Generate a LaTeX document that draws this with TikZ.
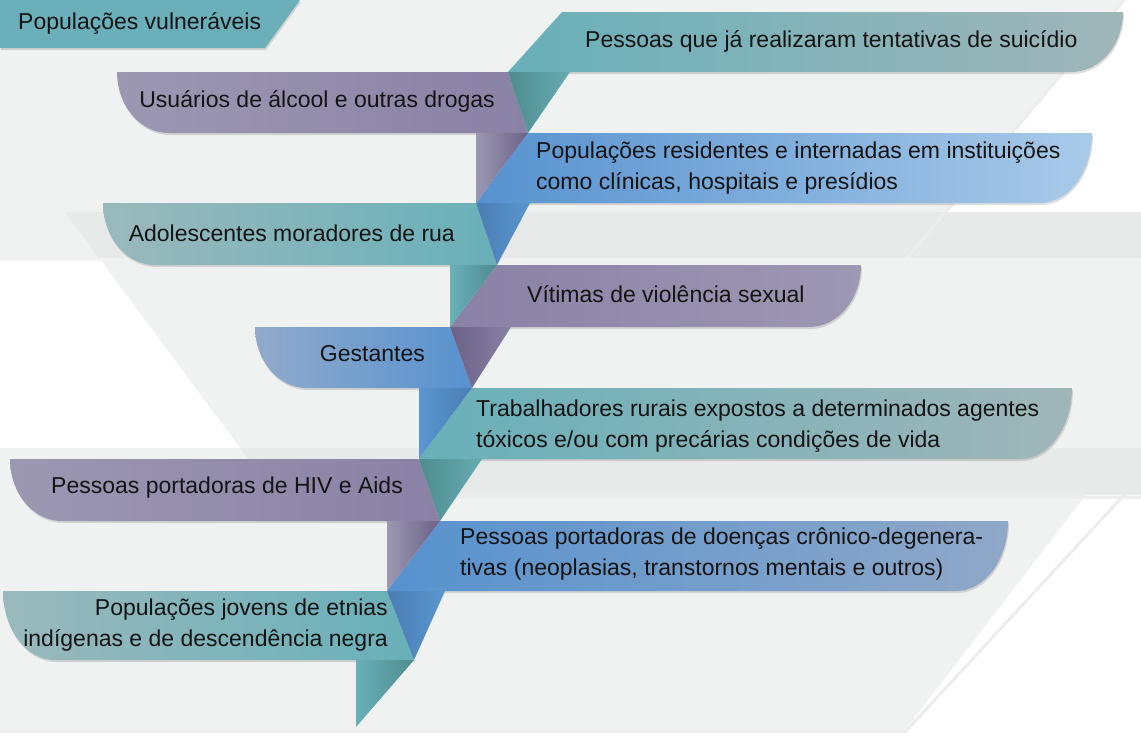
\documentclass[tikz,border=0pt]{standalone}
\usepackage{fontspec}
\setmainfont{Liberation Sans}
\definecolor{bg}{HTML}{F0F2F2}
\definecolor{bgd}{HTML}{E8EAEA}
\definecolor{hdr}{HTML}{6AAFBA}
\definecolor{tealA}{HTML}{69B0B9}
\definecolor{tealB}{HTML}{A0B6B9}
\definecolor{tealC}{HTML}{9AB9BD}
\definecolor{tealD}{HTML}{4E8C8E}
\definecolor{tealE}{HTML}{67ABB2}
\definecolor{purA}{HTML}{9C98B2}
\definecolor{purB}{HTML}{8A81A6}
\definecolor{purC}{HTML}{9D98B3}
\definecolor{purD}{HTML}{6A6186}
\definecolor{bluA}{HTML}{5792CF}
\definecolor{bluB}{HTML}{A9CAE9}
\definecolor{bluC}{HTML}{91AACB}
\definecolor{bluD}{HTML}{8FA8C8}
\definecolor{bluE}{HTML}{4A7DB3}
\definecolor{bluF}{HTML}{5A96D0}
\newcommand\ribR[7]{%
 \path[fill=black,opacity=.13,shift={(1,2)}] (#3,#1) -- (#5,#1) .. controls (#5,{#1+0.552*(#2-#1)}) and ({#5-23},#2) .. ({#5-52},#2) -- (#4,#2) -- cycle;
 \path[left color=#6,right color=#7] (#3,#1) -- (#5,#1) .. controls (#5,{#1+0.552*(#2-#1)}) and ({#5-23},#2) .. ({#5-52},#2) -- (#4,#2) -- cycle;}
\newcommand\ribL[7]{%
 \path[fill=black,opacity=.13,shift={(1,2)}] (#3,#1) -- (#4,#1) -- (#5,#2) -- ({#3+52},#2) .. controls ({#3+23},#2) and (#3,{#1+0.552*(#2-#1)}) .. (#3,#1) -- cycle;
 \path[left color=#6,right color=#7] (#3,#1) -- (#4,#1) -- (#5,#2) -- ({#3+52},#2) .. controls ({#3+23},#2) and (#3,{#1+0.552*(#2-#1)}) .. (#3,#1) -- cycle;}
\begin{document}
\begin{tikzpicture}[x=1pt,y=-1pt,
  txt/.style={font=\fontsize{23}{31.5}\selectfont, text=black!92, inner sep=0pt},
  rtxt/.style={txt, anchor=west, align=left},
  ltxt/.style={txt, anchor=east, align=right},
  shadowline/.style={black!7, line width=3pt}]
\useasboundingbox (0,0) rectangle (1141,745);
% background panels
\fill[white] (0,0) rectangle (1141,745);
\fill[bg] (65,212) -- (1141,212) -- (1141,495) -- (275,495) -- cycle;
\fill[bg] (0,0) -- (1122,0) -- (905,258) -- (0,258) -- cycle;
\fill[bgd] (65,212) -- (1141,212) -- (1141,258) -- (99,258) -- cycle;
\draw[shadowline] (1124,0) -- (907,258);
\draw[black!5, line width=2.5pt] (0,259.5) -- (1141,259.5);
\fill[bg] (0,448) -- (1122,448) -- (905,730) -- (0,730) -- cycle;
\fill[bgd] (240,448) -- (1141,448) -- (1141,495) -- (275,495) -- cycle;
\draw[shadowline] (1124,495) -- (907,730);
\draw[shadowline] (275,497) -- (1141,497);
\draw[shadowline] (0,731.5) -- (907,731.5);
% header
\path[fill=black,opacity=.13,shift={(1,2)}] (0,0) -- (300,0) -- (265,48) -- (0,48) -- cycle;
\path[fill=hdr] (0,0) -- (300,0) -- (265,48) -- (0,48) -- cycle;
% ribbons
\ribR{12}{72}{562}{508}{1123}{tealA}{tealB}
\ribL{72}{133}{117}{508}{528}{purA}{purB}
\ribR{133}{203}{528}{476}{1092}{bluA}{bluB}
\ribL{203}{265}{103}{476}{497}{tealC}{tealA}
\ribR{265}{327}{497}{450}{861}{purB}{purC}
\ribL{327}{388}{255}{450}{472}{bluC}{bluA}
\ribR{388}{459}{472}{419}{1072}{tealA}{tealB}
\ribL{459}{521}{10}{419}{440}{purA}{purB}
\ribR{521}{591}{440}{387}{1008}{bluA}{bluD}
\ribL{591}{660}{3}{387}{414}{tealC}{tealA}
% folds
\path[left color=tealD,right color=tealE] (508,72) -- (570,72) -- (528,133) -- cycle;
\path[left color=purA,right color=purD] (476,133) -- (528,133) -- (476,203) -- cycle;
\path[left color=bluE,right color=bluF] (476,203) -- (530,203) -- (497,265) -- cycle;
\path[left color=tealA,right color=tealD] (450,265) -- (497,265) -- (450,327) -- cycle;
\path[left color=purD,right color=purB] (450,327) -- (511,327) -- (472,388) -- cycle;
\path[left color=bluF,right color=bluE] (419,388) -- (472,388) -- (419,459) -- cycle;
\path[left color=tealD,right color=tealE] (419,459) -- (482,459) -- (440,521) -- cycle;
\path[left color=purA,right color=purD] (387,521) -- (440,521) -- (387,591) -- cycle;
\path[left color=bluE,right color=bluF] (387,591) -- (445,591) -- (414,660) -- cycle;
\path[left color=tealA,right color=tealD] (356,660) -- (414,660) -- (356,727) -- cycle;
% texts
\node[rtxt] (hdrtxt) at (18,23) {Populações vulneráveis};
\node[rtxt] (r1) at (585,41) {Pessoas que já realizaram tentativas de suicídio};
\node[ltxt] (l1) at (495,101) {Usuários de álcool e outras drogas};
\node[rtxt] (r2) at (536,168) {Populações residentes e internadas em instituições\\como clínicas, hospitais e presídios};
\node[ltxt] (l2) at (455,233) {Adolescentes moradores de rua};
\node[rtxt] (r3) at (527,294) {Vítimas de violência sexual};
\node[ltxt] (l3) at (425,354) {Gestantes};
\node[rtxt] (r4) at (476,426) {Trabalhadores rurais expostos a determinados agentes\\tóxicos e/ou com precárias condições de vida};
\node[ltxt] (l4) at (403,488) {Pessoas portadoras de HIV e Aids};
\node[rtxt] (r5) at (460,554) {Pessoas portadoras de doenças crônico-degenera-\\tivas (neoplasias, transtornos mentais e outros)};
\node[ltxt] (l5) at (388,625) {Populações jovens de etnias\\indígenas e de descendência negra};
\end{tikzpicture}
\end{document}
